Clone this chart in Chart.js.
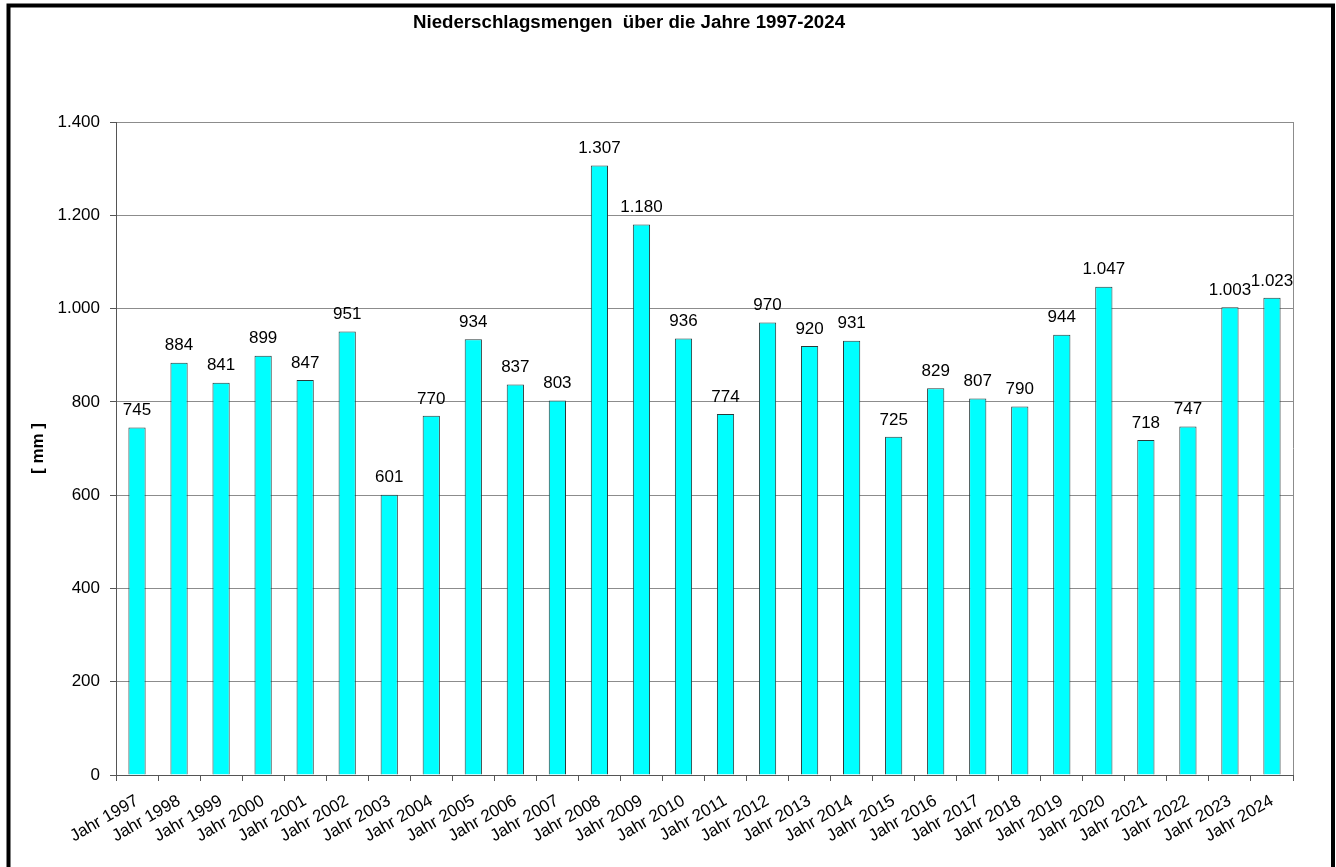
<!DOCTYPE html>
<html>
<head>
<meta charset="utf-8">
<script src="https://cdn.jsdelivr.net/npm/chart.js@4/dist/chart.umd.min.js"></script>
<style>
html,body{margin:0;padding:0;background:#fff;}
#wrap{width:1336px;height:867px;position:relative;}
</style>
</head>
<body>
<div id="wrap"><canvas id="c" width="1336" height="867"></canvas></div>
<script>
const chartTitle = 'Niederschlagsmengen  über die Jahre 1997-2024';
const yAxisTitle = '[ mm ]';
const categories = ['Jahr 1997','Jahr 1998','Jahr 1999','Jahr 2000','Jahr 2001','Jahr 2002','Jahr 2003','Jahr 2004','Jahr 2005','Jahr 2006','Jahr 2007','Jahr 2008','Jahr 2009','Jahr 2010','Jahr 2011','Jahr 2012','Jahr 2013','Jahr 2014','Jahr 2015','Jahr 2016','Jahr 2017','Jahr 2018','Jahr 2019','Jahr 2020','Jahr 2021','Jahr 2022','Jahr 2023','Jahr 2024'];
const precipitation = [745,884,841,899,847,951,601,770,934,837,803,1307,1180,936,774,970,920,931,725,829,807,790,944,1047,718,747,1003,1023];
const yTicks = [0,200,400,600,800,1000,1200,1400];

const FONT = "'Liberation Sans', Arial, sans-serif";
function fmt(v){
  const s = String(Math.round(v));
  return s.replace(/\B(?=(\d{3})+(?!\d))/g, '.');
}

const framePlugin = {
  id:'frame',
  beforeDraw(chart){
    const ctx = chart.ctx;
    ctx.save();
    ctx.fillStyle = '#fff';
    ctx.fillRect(0,0,chart.width,chart.height);
    ctx.strokeStyle = '#000';
    ctx.lineWidth = 4;
    ctx.strokeRect(8.5, 5.5, 1324.5, 900);
    ctx.fillStyle = '#000';
    ctx.font = "bold 18.7px " + FONT;
    ctx.textAlign = 'center';
    ctx.textBaseline = 'middle';
    ctx.fillText(chartTitle, 629, 23);
    ctx.restore();
  },
  afterDraw(chart){
    const a = chart.chartArea, ctx = chart.ctx;
    ctx.save();
    ctx.strokeStyle = '#8c8c8c';
    ctx.lineWidth = 1;
    ctx.beginPath();
    ctx.moveTo(Math.round(a.right)+0.5, a.top);
    ctx.lineTo(Math.round(a.right)+0.5, a.bottom);
    ctx.stroke();
    ctx.restore();
  },
  afterDatasetsDraw(chart){
    const ctx = chart.ctx;
    const meta = chart.getDatasetMeta(0);
    ctx.save();
    ctx.fillStyle = '#000';
    ctx.font = "17px " + FONT;
    ctx.textAlign = 'center';
    ctx.textBaseline = 'middle';
    meta.data.forEach((bar,i)=>{
      ctx.fillText(fmt(chart.data.datasets[0].data[i]), bar.x, bar.y - 17);
    });
    ctx.restore();
  }
};

new Chart(document.getElementById('c'), {
  type:'bar',
  data:{
    labels: categories,
    datasets:[{
      data: precipitation,
      backgroundColor:'#00ffff',
      borderColor:'#2a3a3a',
      borderWidth:1,
      barPercentage:0.41,
      categoryPercentage:1.0
    }]
  },
  options:{
    responsive:false,
    animation:false,
    devicePixelRatio:1,
    layout:{padding:{left:0, top:122, right:43, bottom:0}},
    plugins:{legend:{display:false}, title:{display:false}, tooltip:{enabled:false}},
    scales:{
      x:{
        offset:true,
        grid:{drawOnChartArea:false, drawTicks:true, tickLength:6, tickColor:'#555', offset:true},
        border:{color:'#555', width:1},
        ticks:{color:'#000', font:{family:FONT, size:17}, maxRotation:30, minRotation:30, padding:10, autoSkip:false},
        afterFit(scale){ scale.height = 92; }
      },
      y:{
        min:0, max:1400,
        afterBuildTicks(scale){ scale.ticks = yTicks.map(v=>({value:v})); },
        grid:{color:'#8c8c8c', tickColor:'#555', tickLength:6, drawTicks:true},
        border:{color:'#555', width:1},
        ticks:{color:'#000', font:{family:FONT, size:17}, padding:10, callback:(v)=>fmt(v)},
        title:{display:true, text:yAxisTitle, color:'#000', font:{family:FONT, size:17, weight:'bold'}, padding:{top:28}},
        afterFit(scale){ scale.width = 116; }
      }
    }
  },
  plugins:[framePlugin]
});
</script>
</body>
</html>
